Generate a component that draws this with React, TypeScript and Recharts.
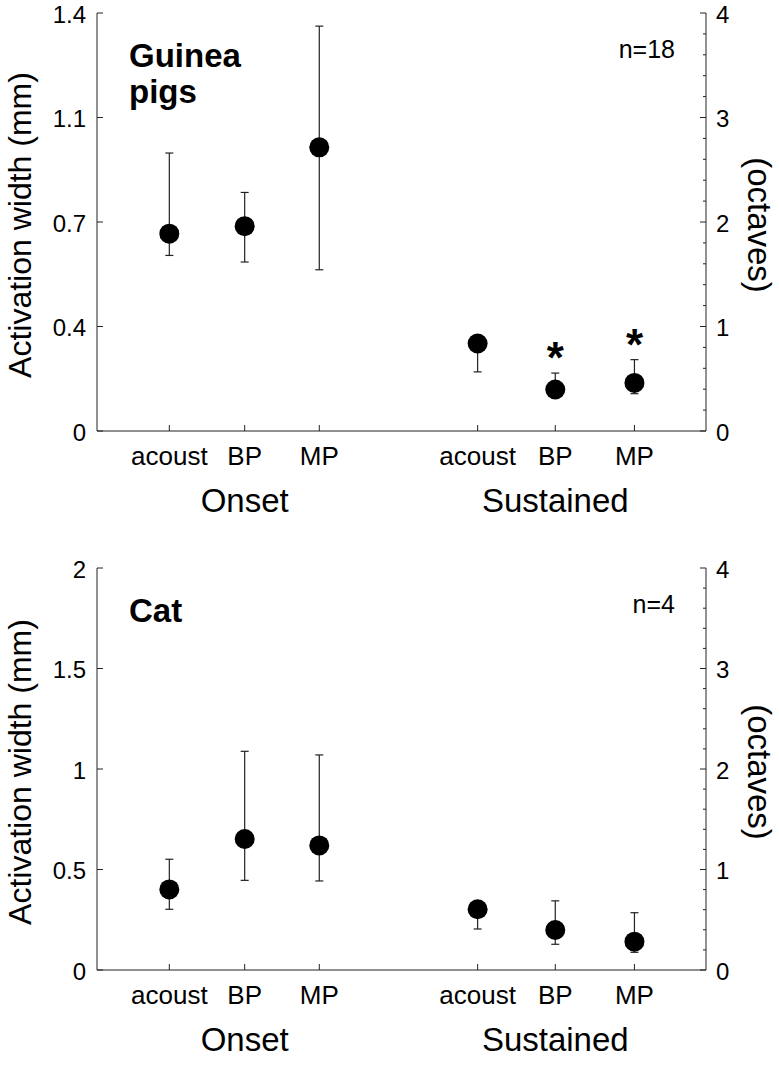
import React from "react";
import { ScatterChart, Scatter, XAxis, YAxis, ErrorBar, Label } from "recharts";

const FONT = "'Liberation Sans', Arial, Helvetica, sans-serif";
const AXIS = "#222";

// categories along the x axis
const conditions = ["acoust", "BP", "MP", "acoust", "BP", "MP"];
const phases = ["Onset", "Onset", "Onset", "Sustained", "Sustained", "Sustained"];
const xPositions = [0.95, 1.94, 2.92, 5.0, 6.02, 7.06];

// guinea pigs (mm): mean, lower end, upper end of bar
const gpMean = [0.661, 0.686, 0.95, 0.293, 0.139, 0.161];
const gpLow = [0.588, 0.566, 0.54, 0.198, 0.125, 0.125];
const gpHigh = [0.931, 0.799, 1.356, 0.31, 0.194, 0.239];
const gpSignificant = [false, false, false, false, true, true];

// cat (mm)
const catMean = [0.401, 0.652, 0.62, 0.302, 0.199, 0.141];
const catLow = [0.302, 0.446, 0.443, 0.204, 0.128, 0.088];
const catHigh = [0.551, 1.088, 1.07, 0.32, 0.344, 0.285];
const catSignificant = [false, false, false, false, false, false];

// y ticks
const gpTicks = [0, 0.35, 0.7, 1.05, 1.4];
const gpTickLabels = ["0", "0.4", "0.7", "1.1", "1.4"];
const catTicks = [0, 0.5, 1, 1.5, 2];
const catTickLabels = ["0", "0.5", "1", "1.5", "2"];
const octaveTicks = [0, 0.2, 0.4, 0.6, 0.8, 1, 1.2, 1.4, 1.6, 1.8, 2, 2.2, 2.4, 2.6, 2.8, 3, 3.2, 3.4, 3.6, 3.8, 4];

const Dot = (p: any) => <circle cx={p.cx} cy={p.cy} r={10} fill="#000" />;

const Star = (p: any) => (
  <text x={p.cx} y={p.cy} textAnchor="middle" fontSize={44} fontWeight="bold" fontFamily={FONT} fill="#000">
    *
  </text>
);

const BottomTick = ({ x, y, payload }: any) => {
  const i = xPositions.indexOf(payload.value);
  const middle = phases[i - 1] === phases[i] && phases[i + 1] === phases[i];
  return (
    <g>
      <line x1={x} y1={y} x2={x} y2={y - 6} stroke={AXIS} />
      <text x={x} y={y + 34} textAnchor="middle" fontSize={26} fontFamily={FONT} fill="#000">
        {conditions[i]}
      </text>
      {middle && (
        <text x={x} y={y + 81} textAnchor="middle" fontSize={33} fontFamily={FONT} fill="#000">
          {phases[i]}
        </text>
      )}
    </g>
  );
};

const TopTick = ({ x, y }: any) => <line x1={x} y1={y} x2={x} y2={y + 6} stroke={AXIS} />;

const makeLeftTick = (ticks: number[], labels: string[]) => ({ x, y, payload }: any) => (
  <g>
    <line x1={x} y1={y} x2={x + 6} y2={y} stroke={AXIS} />
    <text x={x - 11} y={y} dy="0.4em" textAnchor="end" fontSize={24} fontFamily={FONT} fill="#000">
      {labels[ticks.indexOf(payload.value)]}
    </text>
  </g>
);

const RightTick = ({ x, y, payload }: any) => {
  const major = Number.isInteger(payload.value);
  return (
    <g>
      <line x1={x} y1={y} x2={x - (major ? 6 : 3)} y2={y} stroke={AXIS} />
      {major && (
        <text x={x + 10} y={y} dy="0.4em" textAnchor="start" fontSize={24} fontFamily={FONT} fill="#000">
          {payload.value}
        </text>
      )}
    </g>
  );
};

const LeftTitle = ({ viewBox }: any) => {
  const cx = viewBox.x + 31;
  const cy = viewBox.y + viewBox.height / 2 + 3;
  return (
    <text x={cx} y={cy} transform={`rotate(-90 ${cx} ${cy})`} textAnchor="middle" fontSize={32} fontFamily={FONT} fill="#000">
      Activation width (mm)
    </text>
  );
};

const RightTitle = ({ viewBox }: any) => {
  const cx = viewBox.x + 42;
  const cy = viewBox.y + viewBox.height / 2 + 3;
  return (
    <text x={cx} y={cy} transform={`rotate(90 ${cx} ${cy})`} textAnchor="middle" fontSize={33} fontFamily={FONT} fill="#000">
      (octaves)
    </text>
  );
};

type PanelProps = {
  height: number;
  top: number;
  xHeight: number;
  title: string[];
  n: string;
  mean: number[];
  low: number[];
  high: number[];
  significant: boolean[];
  yMax: number;
  yTicks: number[];
  yLabels: string[];
};

function Panel(props: PanelProps) {
  const { height, top, xHeight, title, n, mean, low, high, significant, yMax, yTicks, yLabels } = props;
  const rows = xPositions.map((x, i) => ({ x, y: mean[i], err: [mean[i] - low[i], high[i] - mean[i]] }));
  const stars = xPositions.map((x, i) => ({ x, y: high[i] })).filter((_, i) => significant[i]);

  return (
    <ScatterChart width={779} height={height} margin={{ top, right: 0, bottom: 0, left: 0 }}>
      <XAxis
        dataKey="x"
        type="number"
        domain={[0, 8]}
        ticks={xPositions}
        interval={0}
        height={xHeight}
        tickSize={0}
        tickMargin={0}
        tickLine={false}
        tick={<BottomTick />}
        axisLine={{ stroke: AXIS }}
        allowDataOverflow
      />
      <XAxis
        xAxisId="top"
        orientation="top"
        type="number"
        domain={[0, 8]}
        ticks={xPositions}
        interval={0}
        height={0}
        tickSize={0}
        tickMargin={0}
        tickLine={false}
        tick={<TopTick />}
        axisLine={{ stroke: AXIS }}
        allowDataOverflow
      />
      <YAxis
        dataKey="y"
        type="number"
        domain={[0, yMax]}
        ticks={yTicks}
        interval={0}
        width={97}
        tickSize={0}
        tickMargin={0}
        tickLine={false}
        tick={makeLeftTick(yTicks, yLabels)}
        axisLine={{ stroke: AXIS }}
        allowDataOverflow
      >
        <Label content={<LeftTitle />} />
      </YAxis>
      <YAxis
        yAxisId="right"
        orientation="right"
        type="number"
        domain={[0, 4]}
        ticks={octaveTicks}
        interval={0}
        width={73}
        tickSize={0}
        tickMargin={0}
        tickLine={false}
        tick={<RightTick />}
        axisLine={{ stroke: AXIS }}
        allowDataOverflow
      >
        <Label content={<RightTitle />} />
      </YAxis>
      <Scatter data={rows} shape={<Dot />} isAnimationActive={false}>
        <ErrorBar dataKey="err" direction="y" width={4} stroke={AXIS} strokeWidth={1.2} isAnimationActive={false} />
      </Scatter>
      {stars.length > 0 && <Scatter data={stars} shape={<Star />} isAnimationActive={false} />}
      {title.map((t, i) => (
        <text key={t} x={129} y={top + 54 + i * 36} fontSize={33} fontWeight="bold" fontFamily={FONT} fill="#000">
          {t}
        </text>
      ))}
      <text x={675} y={top + 45} textAnchor="end" fontSize={25} fontFamily={FONT} fill="#000">
        {n}
      </text>
    </ScatterChart>
  );
}

export default function App() {
  return (
    <div style={{ position: "absolute", left: 0, top: 0, width: 779, height: 1073, background: "#fff" }}>
      <div style={{ position: "absolute", left: 0, top: 0 }}>
        <Panel
          height={530}
          top={13}
          xHeight={99}
          title={["Guinea", "pigs"]}
          n="n=18"
          mean={gpMean}
          low={gpLow}
          high={gpHigh}
          significant={gpSignificant}
          yMax={1.4}
          yTicks={gpTicks}
          yLabels={gpTickLabels}
        />
      </div>
      <div style={{ position: "absolute", left: 0, top: 530 }}>
        <Panel
          height={543}
          top={38}
          xHeight={103}
          title={["Cat"]}
          n="n=4"
          mean={catMean}
          low={catLow}
          high={catHigh}
          significant={catSignificant}
          yMax={2}
          yTicks={catTicks}
          yLabels={catTickLabels}
        />
      </div>
    </div>
  );
}
